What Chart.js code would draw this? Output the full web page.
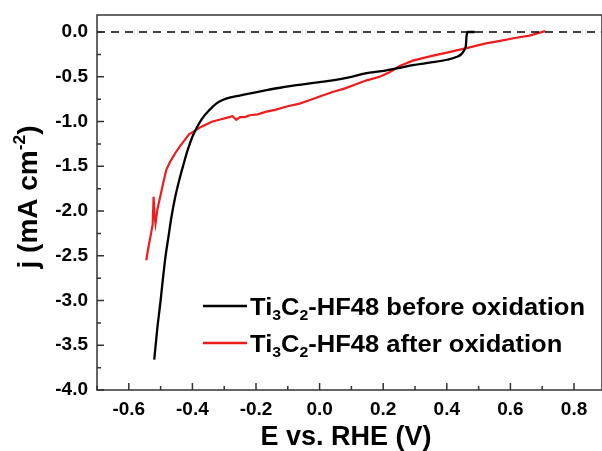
<!DOCTYPE html>
<html>
<head>
<meta charset="utf-8">
<script src="https://cdn.jsdelivr.net/npm/chart.js@4.4.0/dist/chart.umd.min.js"></script>
<style>
  html, body { margin: 0; padding: 0; background: #fff; }
</style>
</head>
<body>
<canvas id="chart" width="602" height="451"></canvas>
<script>
// Ti3C2-HF48 before oxidation
const beforeE = [-0.520, -0.510, -0.500, -0.494, -0.485, -0.475, -0.466, -0.455, -0.441, -0.428, -0.415, -0.400,
                 -0.388, -0.370, -0.346, -0.325, -0.305, -0.280, -0.252, -0.210, -0.167, -0.120, -0.063, 0.000,
                 0.041, 0.100, 0.148, 0.189, 0.252, 0.293, 0.350, 0.400, 0.430, 0.445, 0.455, 0.460, 0.462, 0.465, 0.488];
const beforeJ = [-3.66, -3.30, -3.00, -2.80, -2.52, -2.28, -2.07, -1.86, -1.65, -1.48, -1.32, -1.17,
                 -1.08, -0.97, -0.87, -0.80, -0.76, -0.73, -0.71, -0.68, -0.65, -0.62, -0.59, -0.56,
                 -0.54, -0.50, -0.46, -0.44, -0.40, -0.37, -0.34, -0.31, -0.28, -0.25, -0.20, -0.15, -0.05, 0.00, 0.00];

// Ti3C2-HF48 after oxidation
const afterE = [-0.545, -0.538, -0.530, -0.525, -0.522, -0.519, -0.516, -0.510, -0.500, -0.490, -0.482, -0.470,
                -0.455, -0.440, -0.425, -0.410, -0.395, -0.378, -0.360, -0.337, -0.315, -0.293, -0.274, -0.262,
                -0.250, -0.235, -0.220, -0.195, -0.167, -0.140, -0.100, -0.063, -0.030, 0.000, 0.041, 0.080,
                0.110, 0.148, 0.189, 0.220, 0.252, 0.293, 0.350, 0.400, 0.462, 0.520, 0.580, 0.610, 0.660, 0.709];
const afterJ = [-2.55, -2.40, -2.25, -2.15, -1.84, -2.05, -2.14, -1.98, -1.82, -1.66, -1.54, -1.45,
                -1.36, -1.28, -1.21, -1.14, -1.11, -1.07, -1.04, -1.00, -0.98, -0.96, -0.94, -0.98,
                -0.95, -0.95, -0.93, -0.92, -0.89, -0.87, -0.83, -0.80, -0.76, -0.72, -0.67, -0.63,
                -0.59, -0.54, -0.50, -0.45, -0.38, -0.32, -0.27, -0.23, -0.18, -0.13, -0.09, -0.07, -0.04, 0.01];

// dashed zero line
const zeroE = [-0.7, 0.9];
const zeroJ = [0, 0];

const xTicks = [-0.6, -0.4, -0.2, 0.0, 0.2, 0.4, 0.6, 0.8];
const xMinor = [-0.7, -0.5, -0.3, -0.1, 0.1, 0.3, 0.5, 0.7];
const yTicks = [0.0, -0.5, -1.0, -1.5, -2.0, -2.5, -3.0, -3.5, -4.0];
const yMinor = [-0.25, -0.75, -1.25, -1.75, -2.25, -2.75, -3.25, -3.75];

const seriesNames = [
    [['Ti'], ['3', 'sub'], ['C'], ['2', 'sub'], ['-HF48 before oxidation']],
    [['Ti'], ['3', 'sub'], ['C'], ['2', 'sub'], ['-HF48 after oxidation']]
];
const seriesColors = ['#000000', '#ee1c1c'];

const FONT = '"Liberation Sans", Arial, sans-serif';

function pts(xs, ys){
    return xs.map((x, i) => ({x: x, y: ys[i]}));
}

function richText(ctx, parts, x, y, size){
    // text with subscripts / superscripts
    parts.forEach(p => {
        let s = size, dy = 0;
        if (p[1] === 'sub'){ s = size * 0.62; dy = size * 0.22; }
        if (p[1] === 'sup'){ s = size * 0.62; dy = -size * 0.42; }
        ctx.font = 'bold ' + s + 'px ' + FONT;
        ctx.fillText(p[0], x, y + dy);
        x += ctx.measureText(p[0]).width;
    });
    return x;
}

function richWidth(ctx, parts, size){
    let w = 0;
    parts.forEach(p => {
        ctx.font = 'bold ' + (p[1] ? size * 0.62 : size) + 'px ' + FONT;
        w += ctx.measureText(p[0]).width;
    });
    return w;
}

const decorations = {
    id: 'decorations',
    afterDraw(chart){
        const ctx = chart.ctx;
        const a = chart.chartArea;
        const xs = chart.scales.x, ys = chart.scales.y;
        ctx.save();
        ctx.strokeStyle = '#333';
        ctx.lineWidth = 1.5;
        ctx.strokeRect(a.left, a.top, a.right - a.left, a.bottom - a.top);

        // ticks point inward
        ctx.beginPath();
        xTicks.forEach(v => { const p = xs.getPixelForValue(v); ctx.moveTo(p, a.bottom); ctx.lineTo(p, a.bottom - 7); });
        xMinor.forEach(v => { const p = xs.getPixelForValue(v); ctx.moveTo(p, a.bottom); ctx.lineTo(p, a.bottom - 4); });
        yTicks.forEach(v => { const p = ys.getPixelForValue(v); ctx.moveTo(a.left, p); ctx.lineTo(a.left + 7, p); });
        yMinor.forEach(v => { const p = ys.getPixelForValue(v); ctx.moveTo(a.left, p); ctx.lineTo(a.left + 4, p); });
        ctx.stroke();

        ctx.fillStyle = '#000';
        ctx.textBaseline = 'alphabetic';
        ctx.textAlign = 'left';

        // x title
        const xt = [['E vs. RHE (V)']];
        const xw = richWidth(ctx, xt, 27);
        richText(ctx, xt, 346 - xw / 2, 445, 27);

        // y title
        const yt = [['j (mA cm'], ['-2', 'sup'], [')']];
        const yw = richWidth(ctx, yt, 28);
        ctx.save();
        ctx.translate(37, 197);
        ctx.rotate(-Math.PI / 2);
        richText(ctx, yt, -yw / 2, 0, 28);
        ctx.restore();

        // legend
        seriesNames.forEach((parts, i) => {
            const ly = 306 + i * 37;
            ctx.strokeStyle = seriesColors[i];
            ctx.lineWidth = 2.5;
            ctx.beginPath();
            ctx.moveTo(203, ly);
            ctx.lineTo(247, ly);
            ctx.stroke();
            ctx.fillStyle = '#000';
            const w = richWidth(ctx, seriesNames[0], 23);
            const sx = 335 / w;
            ctx.save();
            ctx.translate(250, ly + 9);
            ctx.scale(sx, 1);
            richText(ctx, parts, 0, 0, 23);
            ctx.restore();
        });
        ctx.restore();
    }
};

new Chart(document.getElementById('chart'), {
    type: 'line',
    data: {
        datasets: [
            {label: 'zero', data: pts(zeroE, zeroJ), borderColor: '#000', borderWidth: 1.5,
             borderDash: [8, 6], pointRadius: 0, fill: false},
            {label: 'Ti3C2-HF48 before oxidation', data: pts(beforeE, beforeJ), borderColor: seriesColors[0],
             borderWidth: 2.3, pointRadius: 0, cubicInterpolationMode: 'monotone', fill: false},
            {label: 'Ti3C2-HF48 after oxidation', data: pts(afterE, afterJ), borderColor: seriesColors[1],
             borderWidth: 2.2, pointRadius: 0, tension: 0, fill: false}
        ]
    },
    options: {
        responsive: false,
        animation: false,
        devicePixelRatio: 1,
        layout: {padding: {top: 15, right: 0, left: 0, bottom: 0}},
        plugins: {legend: {display: false}, tooltip: {enabled: false}},
        scales: {
            x: {
                type: 'linear', min: -0.7, max: 0.888,
                afterBuildTicks: s => { s.ticks = xTicks.map(v => ({value: v})); },
                afterFit: s => { s.height = 61; s.paddingLeft = 0; s.paddingRight = 0; },
                grid: {display: false, drawTicks: false},
                border: {display: false},
                ticks: {color: '#000', padding: 8, font: {family: FONT, size: 19, weight: 'bold'},
                        callback: v => v.toFixed(1)}
            },
            y: {
                type: 'linear', min: -4, max: 0.19,
                afterBuildTicks: s => { s.ticks = yTicks.map(v => ({value: v})); },
                afterFit: s => { s.width = 97; s.paddingTop = 0; s.paddingBottom = 0; },
                grid: {display: false, drawTicks: false},
                border: {display: false},
                ticks: {color: '#000', padding: 9, font: {family: FONT, size: 19, weight: 'bold'},
                        callback: v => v.toFixed(1)}
            }
        }
    },
    plugins: [decorations]
});
</script>
</body>
</html>
